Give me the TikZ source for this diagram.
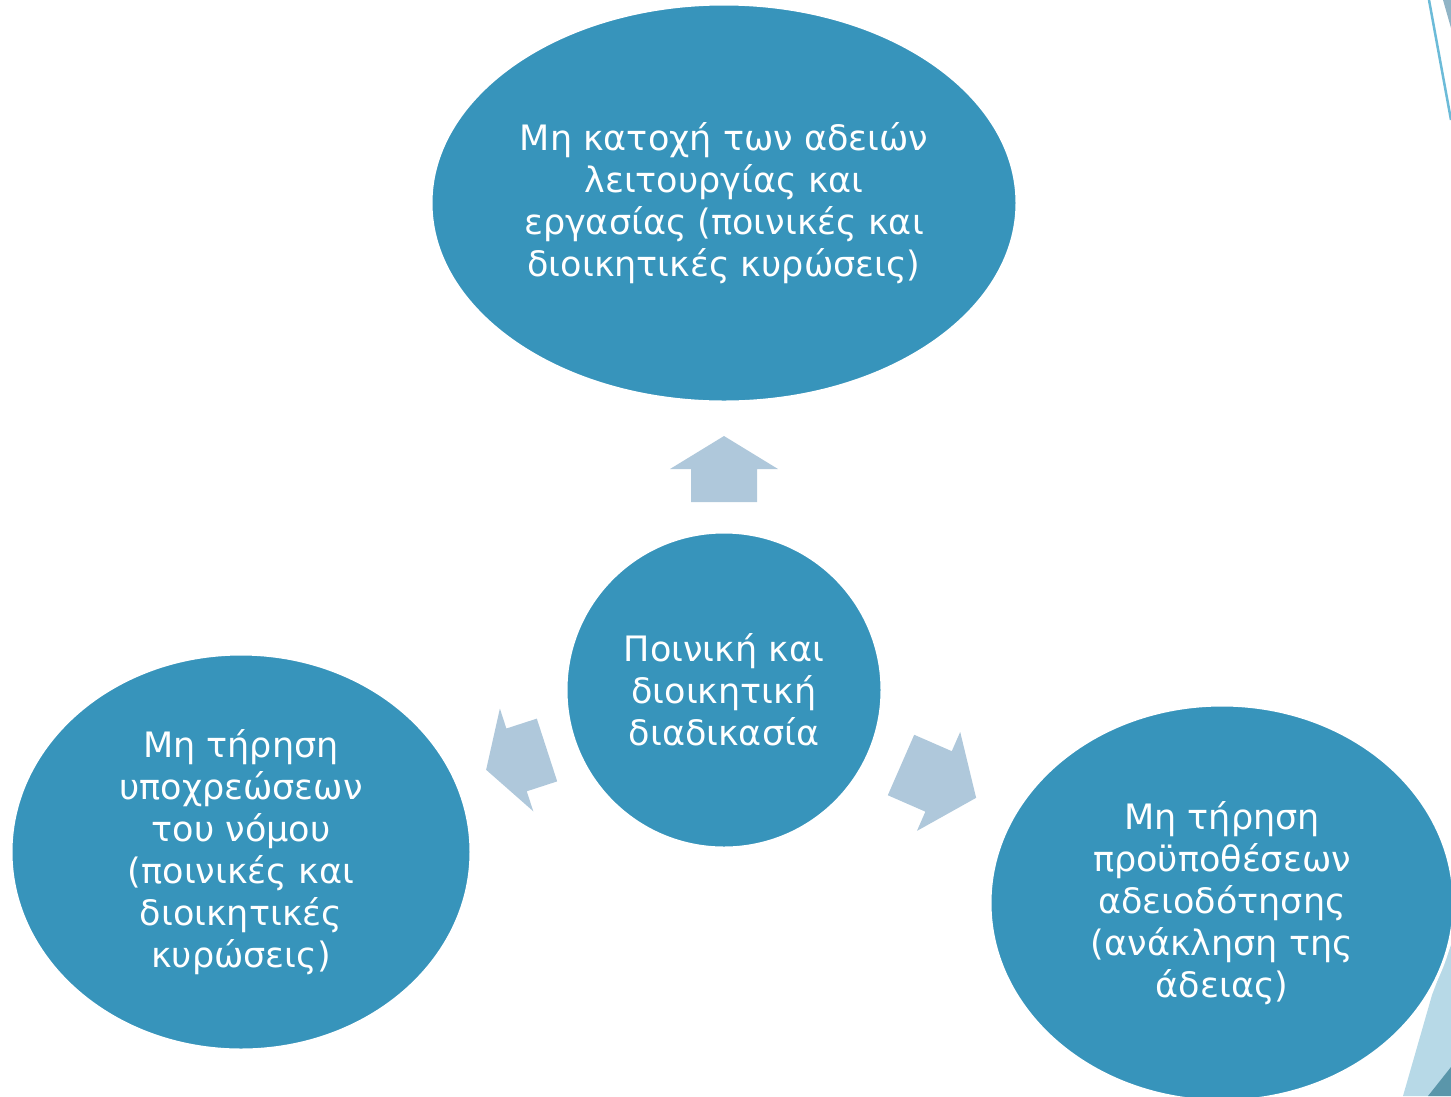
\documentclass[tikz,border=0pt]{standalone}
\usepackage{fontspec}
\setmainfont{DejaVu Sans}
\usepackage{tikz}
\usetikzlibrary{shapes.geometric}
\usetikzlibrary{positioning}
\definecolor{seablue}{RGB}{55, 148, 187}
\definecolor{mistblue}{RGB}{175, 200, 219}
\definecolor{skyline}{RGB}{108, 187, 216}
\definecolor{slategrey}{RGB}{144, 180, 198}
\definecolor{paleblue}{RGB}{183, 217, 231}
\definecolor{deepteal}{RGB}{90, 150, 170}

\tikzset{
    bubble/.style={ellipse, fill=seablue, draw=white, line width=3pt, text=white, align=center,
                   inner sep=0pt, font=\fontsize{35}{42}\selectfont},
    blockarrow/.pic={
        \fill[mistblue] (0,-33) -- (#1,-33) -- (#1,-54) -- ({2*#1},0) -- (#1,54) -- (#1,33) -- (0,33) -- cycle;
    }
}

\begin{document}
\begin{tikzpicture}[x=1pt, y=-1pt]
            \useasboundingbox (0,0) rectangle (1451,1096);
            \clip (0,0) rectangle (1451,1096);
            % corner decorations
            \draw[skyline, line width=2.5pt]                               (1429, 0) -- (1451, 120);
            \fill[slategrey]                                               (1443, 0) -- (1451, 0) -- (1451, 28) -- cycle;
            \fill[paleblue]                                                (1403,1096) -- (1432, 995) -- (1451, 945) -- (1451,1096) -- cycle;
            \fill[deepteal]                                                (1428,1096) -- (1451,1067) -- (1451,1096) -- cycle;
            % bubbles
            \node[bubble, minimum width=586, minimum height=398] (licence)  at ( 724, 203)
                 {Μη κατοχή των αδειών\\λειτουργίας και\\εργασίας (ποινικές και\\διοικητικές κυρώσεις)};
            \node[bubble, minimum width=316, minimum height=316] (process)  at ( 724, 690)
                 {Ποινική και\\διοικητική\\διαδικασία};
            \node[bubble, minimum width=460, minimum height=396] (duties)   at ( 241, 852)
                 {Μη τήρηση\\υποχρεώσεων\\του νόμου\\(ποινικές και\\διοικητικές\\κυρώσεις)};
            \node[bubble, minimum width=464, minimum height=396] (terms)    at (1222, 903)
                 {Μη τήρηση\\προϋποθέσεων\\αδειοδότησης\\(ανάκληση της\\άδειας)};
            % arrows
            \pic[rotate=90]    at ( 724, 502) {blockarrow=33};
            \pic[rotate=198]   at ( 547, 750) {blockarrow=32};
            \pic[rotate=-23.6] at ( 901, 765) {blockarrow=41};
        \end{tikzpicture}
\end{document}
